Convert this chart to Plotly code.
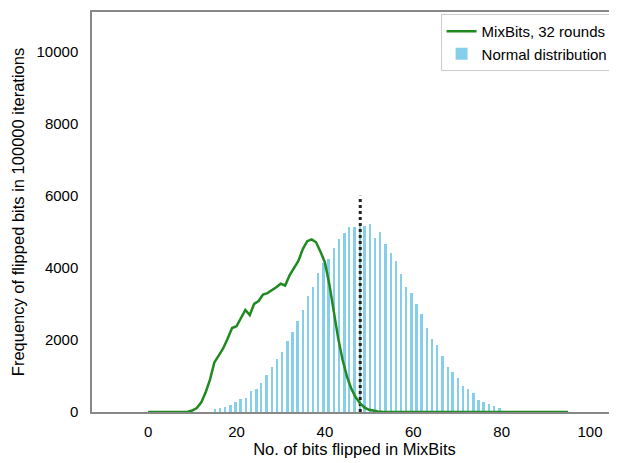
import plotly.graph_objects as go

# ---- data ----
normal_x = [15.1, 16.3, 17.4, 18.6, 19.8, 20.9, 22.1, 23.3, 24.5, 25.6,
            26.8, 28.0, 29.1, 30.3, 31.5, 32.7, 33.8, 35.0, 36.2, 37.3,
            38.5, 39.7, 40.8, 42.0, 43.2, 44.4, 45.5, 46.7, 47.9, 49.0,
            50.2, 51.4, 52.5, 53.7, 54.9, 56.1, 57.2, 58.4, 59.6, 60.7,
            61.9, 63.1, 64.2, 65.4, 66.6, 67.8, 68.9, 70.1, 71.3, 72.4,
            73.6, 74.8, 75.9, 77.1, 78.3, 79.5]
normal_counts = [92, 111, 130, 185, 287, 361, 380, 583, 648, 815,
                 1019, 1259, 1472, 1676, 1981, 2222, 2537, 2833, 3222, 3463,
                 3852, 4130, 4250, 4546, 4796, 4981, 5130, 5130, 5150, 5170,
                 5222, 4824, 5009, 4657, 4407, 4194, 3830, 3470, 3290, 3000,
                 2713, 2330, 2019, 1850, 1545, 1250, 1120, 935, 722, 630,
                 519, 333, 269, 213, 176, 120]

mixbits_x = list(range(0, 96))
mixbits_counts = [0, 0, 0, 0, 0, 0, 0, 0, 0, 8,
                  40, 110, 260, 540, 900, 1380, 1570, 1770, 2040, 2330,
                  2380, 2620, 2830, 2690, 3000, 3080, 3260, 3300, 3370, 3460,
                  3560, 3510, 3790, 3990, 4190, 4520, 4740, 4790, 4710, 4450,
                  4150, 3550, 2800, 2050, 1450, 980, 640, 400, 240, 120,
                  60, 30, 15, 8, 5, 3, 0, 0, 0, 0,
                  0, 0, 0, 0, 0, 0, 0, 0, 0, 0,
                  0, 0, 0, 0, 0, 0, 0, 0, 0, 0,
                  0, 0, 0, 0, 0, 0, 0, 0, 0, 0,
                  0, 0, 0, 0, 0, 0]

mean_x = [48, 48]
mean_y = [0, 6000]

x_ticks = [0, 20, 40, 60, 80, 100]
y_ticks = [0, 2000, 4000, 6000, 8000, 10000]

FONT = "Liberation Sans"

fig = go.Figure()
fig.add_trace(go.Bar(x=normal_x, y=normal_counts, width=0.55,
                     marker=dict(color="#87CEEB", line=dict(width=0)),
                     name="Normal distribution", legendrank=2))
fig.add_trace(go.Scatter(x=mean_x, y=mean_y, mode="lines",
                         line=dict(color="#222222", width=3, dash="dot"),
                         showlegend=False, hoverinfo="skip"))
fig.add_trace(go.Scatter(x=mixbits_x, y=mixbits_counts, mode="lines",
                         line=dict(color="#1f8a1f", width=2.5),
                         name="MixBits, 32 rounds", legendrank=1))

fig.update_layout(
    width=609, height=455,
    margin=dict(l=84, r=0, t=4, b=51, autoexpand=False),
    plot_bgcolor="white", paper_bgcolor="white",
    font=dict(family=FONT, size=15, color="black"),
    bargap=0,
    legend=dict(x=0.664, y=0.995, xanchor="left", yanchor="top",
                bgcolor="white", bordercolor="#cccccc", borderwidth=1,
                font=dict(family=FONT, size=15), tracegroupgap=0,
                itemwidth=30),
    xaxis=dict(range=[-12.7, 106.1], tickvals=x_ticks, ticks="",
               showgrid=False, zeroline=False, showline=True, mirror=True,
               linecolor="#888888", linewidth=1.5, ticklabelstandoff=5,
               tickfont=dict(family=FONT, size=15),
               title=dict(text="No. of bits flipped in MixBits", standoff=4,
                          font=dict(size=16.5))),
    yaxis=dict(range=[0, 11100], tickvals=y_ticks, ticks="",
               tickformat="d",
               showgrid=False, zeroline=False, showline=True,
               linecolor="#888888", linewidth=1.5, ticklabelstandoff=9,
               tickfont=dict(family=FONT, size=15),
               title=dict(text="Frequency of flipped bits in 100000 iterations",
                          standoff=8, font=dict(size=16.5))),
)

fig.write_html("out.html")
